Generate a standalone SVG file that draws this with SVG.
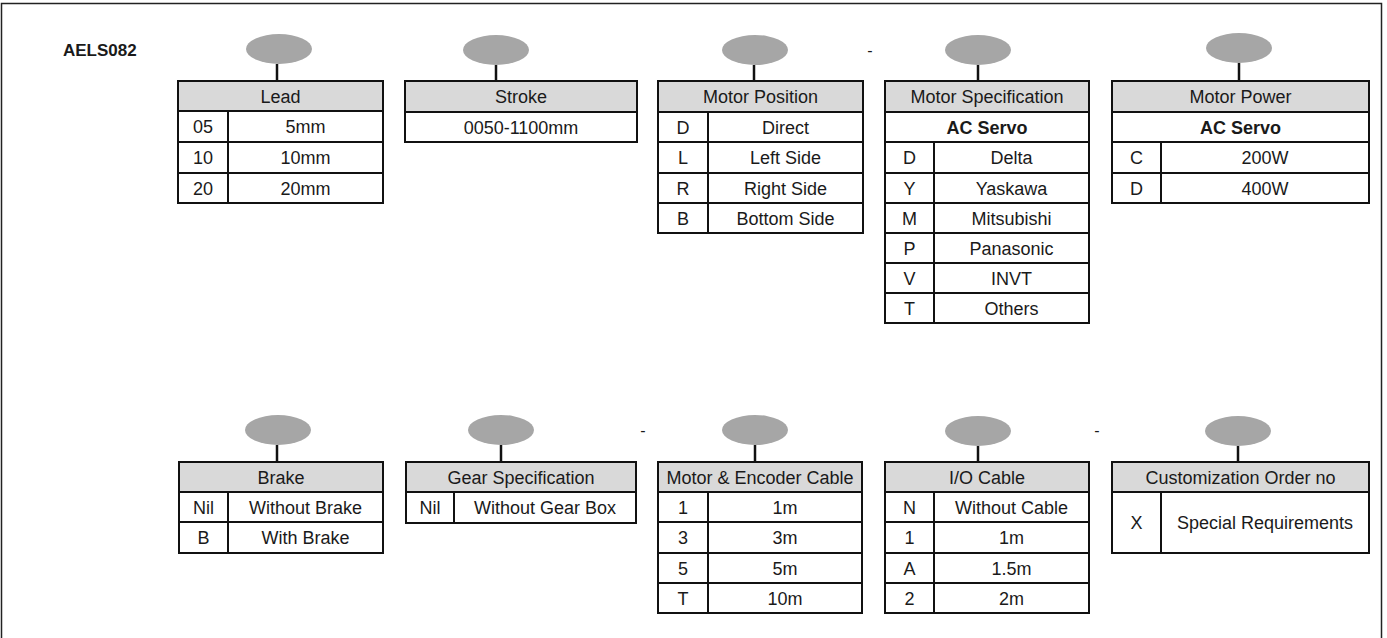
<svg xmlns="http://www.w3.org/2000/svg" width="1387" height="638" viewBox="0 0 1387 638">
<style>
text{font-family:"Liberation Sans",Arial,sans-serif;font-size:18px;fill:#1a1a1a;text-anchor:middle}
.b{font-weight:bold}
.hd{fill:#d9d9d9;stroke:none}
.ln{stroke:#111;stroke-width:2;fill:none}
.dot{fill:#a6a6a6;stroke:none}
.con{stroke:#111;stroke-width:2.5}
.dash{font-size:16px}
</style>
<rect x="1.5" y="3.5" width="1380" height="700" fill="#fff" stroke="#222" stroke-width="1.5"/>
<text class="b" x="63" y="56" style="font-size:17px;text-anchor:start">AELS082</text>
<text class="dash" x="870" y="56">-</text>
<text class="dash" x="643" y="436">-</text>
<text class="dash" x="1097" y="436">-</text>

<g id="dots">
<g id="dot-lead"><ellipse class="dot" cx="279" cy="49" rx="33" ry="15"/></g>
<g id="dot-stroke"><ellipse class="dot" cx="496" cy="50" rx="33" ry="15"/></g>
<g id="dot-motorpos"><ellipse class="dot" cx="755" cy="50" rx="33" ry="15"/></g>
<g id="dot-motorspec"><ellipse class="dot" cx="978" cy="50" rx="33" ry="15"/></g>
<g id="dot-motorpower"><ellipse class="dot" cx="1239" cy="48" rx="33" ry="15"/></g>
<g id="dot-brake"><ellipse class="dot" cx="278" cy="430" rx="33" ry="15"/></g>
<g id="dot-gear"><ellipse class="dot" cx="501" cy="430" rx="33" ry="15"/></g>
<g id="dot-mecable"><ellipse class="dot" cx="755" cy="430" rx="33" ry="15"/></g>
<g id="dot-iocable"><ellipse class="dot" cx="978" cy="431" rx="33" ry="15"/></g>
<g id="dot-custom"><ellipse class="dot" cx="1238" cy="431" rx="33" ry="15"/></g>
</g>

<g id="connectors">
<line class="con" x1="277" y1="64" x2="277" y2="81"/>
<line class="con" x1="496" y1="65" x2="496" y2="81"/>
<line class="con" x1="754" y1="65" x2="754" y2="81"/>
<line class="con" x1="978" y1="65" x2="978" y2="81"/>
<line class="con" x1="1239" y1="63" x2="1239" y2="81"/>
<line class="con" x1="277" y1="445" x2="277" y2="462"/>
<line class="con" x1="501" y1="445" x2="501" y2="462"/>
<line class="con" x1="755" y1="445" x2="755" y2="462"/>
<line class="con" x1="978" y1="446" x2="978" y2="462"/>
<line class="con" x1="1238" y1="446" x2="1238" y2="462"/>
</g>

<g id="lead">
<rect class="hd" x="178" y="81" width="205" height="30"/>
<rect class="ln" x="178" y="81" width="205" height="122"/>
<path class="ln" d="M178 111H383M178 142H383M178 173H383M228 111V203"/>
<text x="280.5" y="102.5">Lead</text>
<text x="203" y="133">05</text><text x="305.5" y="133">5mm</text>
<text x="203" y="164">10</text><text x="305.5" y="164">10mm</text>
<text x="203" y="194.5">20</text><text x="305.5" y="194.5">20mm</text>
</g>

<g id="stroke">
<rect class="hd" x="405" y="81" width="232" height="31"/>
<rect class="ln" x="405" y="81" width="232" height="61"/>
<path class="ln" d="M405 112H637"/>
<text x="521" y="103">Stroke</text>
<text x="521" y="133.5">0050-1100mm</text>
</g>

<g id="motorpos">
<rect class="hd" x="658" y="81" width="205" height="31"/>
<rect class="ln" x="658" y="81" width="205" height="152"/>
<path class="ln" d="M658 112H863M658 142H863M658 173H863M658 203H863M708 112V233"/>
<text x="760.5" y="103">Motor Position</text>
<text x="683" y="133.5">D</text><text x="785.5" y="133.5">Direct</text>
<text x="683" y="164">L</text><text x="785.5" y="164">Left Side</text>
<text x="683" y="194.5">R</text><text x="785.5" y="194.5">Right Side</text>
<text x="683" y="224.5">B</text><text x="785.5" y="224.5">Bottom Side</text>
</g>

<g id="motorspec">
<rect class="hd" x="885" y="81" width="204" height="31"/>
<rect class="ln" x="885" y="81" width="204" height="242"/>
<path class="ln" d="M885 112H1089M885 142H1089M885 173H1089M885 203H1089M885 233H1089M885 263H1089M885 293H1089M934 142V323"/>
<text x="987" y="103">Motor Specification</text>
<text class="b" x="987" y="133.5">AC Servo</text>
<text x="909.5" y="164">D</text><text x="1011.5" y="164">Delta</text>
<text x="909.5" y="194.5">Y</text><text x="1011.5" y="194.5">Yaskawa</text>
<text x="909.5" y="224.5">M</text><text x="1011.5" y="224.5">Mitsubishi</text>
<text x="909.5" y="254.5">P</text><text x="1011.5" y="254.5">Panasonic</text>
<text x="909.5" y="284.5">V</text><text x="1011.5" y="284.5">INVT</text>
<text x="909.5" y="314.5">T</text><text x="1011.5" y="314.5">Others</text>
</g>

<g id="motorpower">
<rect class="hd" x="1112" y="81" width="257" height="31"/>
<rect class="ln" x="1112" y="81" width="257" height="122"/>
<path class="ln" d="M1112 112H1369M1112 142H1369M1112 173H1369M1161 142V203"/>
<text x="1240.5" y="103">Motor Power</text>
<text class="b" x="1240.5" y="133.5">AC Servo</text>
<text x="1136.5" y="164">C</text><text x="1265" y="164">200W</text>
<text x="1136.5" y="194.5">D</text><text x="1265" y="194.5">400W</text>
</g>

<g id="brake">
<rect class="hd" x="179" y="462" width="204" height="30"/>
<rect class="ln" x="179" y="462" width="204" height="91"/>
<path class="ln" d="M179 492H383M179 522H383M228 492V553"/>
<text x="281" y="483.5">Brake</text>
<text x="203.5" y="513.5">Nil</text><text x="305.5" y="513.5">Without Brake</text>
<text x="203.5" y="544">B</text><text x="305.5" y="544">With Brake</text>
</g>

<g id="gear">
<rect class="hd" x="406" y="462" width="230" height="30"/>
<rect class="ln" x="406" y="462" width="230" height="61"/>
<path class="ln" d="M406 492H636M454 492V523"/>
<text x="521" y="483.5">Gear Specification</text>
<text x="430" y="514">Nil</text><text x="545" y="514">Without Gear Box</text>
</g>

<g id="mecable">
<rect class="hd" x="658" y="462" width="204" height="30"/>
<rect class="ln" x="658" y="462" width="204" height="151"/>
<path class="ln" d="M658 492H862M658 522H862M658 553H862M658 583H862M708 492V613"/>
<text x="760" y="483.5">Motor &amp; Encoder Cable</text>
<text x="683" y="513.5">1</text><text x="785" y="513.5">1m</text>
<text x="683" y="544">3</text><text x="785" y="544">3m</text>
<text x="683" y="574.5">5</text><text x="785" y="574.5">5m</text>
<text x="683" y="604.5">T</text><text x="785" y="604.5">10m</text>
</g>

<g id="iocable">
<rect class="hd" x="885" y="462" width="204" height="30"/>
<rect class="ln" x="885" y="462" width="204" height="151"/>
<path class="ln" d="M885 492H1089M885 522H1089M885 553H1089M885 583H1089M934 492V613"/>
<text x="987" y="483.5">I/O Cable</text>
<text x="909.5" y="513.5">N</text><text x="1011.5" y="513.5">Without Cable</text>
<text x="909.5" y="544">1</text><text x="1011.5" y="544">1m</text>
<text x="909.5" y="574.5">A</text><text x="1011.5" y="574.5">1.5m</text>
<text x="909.5" y="604.5">2</text><text x="1011.5" y="604.5">2m</text>
</g>

<g id="custom">
<rect class="hd" x="1112" y="462" width="257" height="30"/>
<rect class="ln" x="1112" y="462" width="257" height="91"/>
<path class="ln" d="M1112 492H1369M1161 492V553"/>
<text x="1240.5" y="483.5">Customization Order no</text>
<text x="1136.5" y="529">X</text><text x="1265" y="529">Special Requirements</text>
</g>
</svg>
